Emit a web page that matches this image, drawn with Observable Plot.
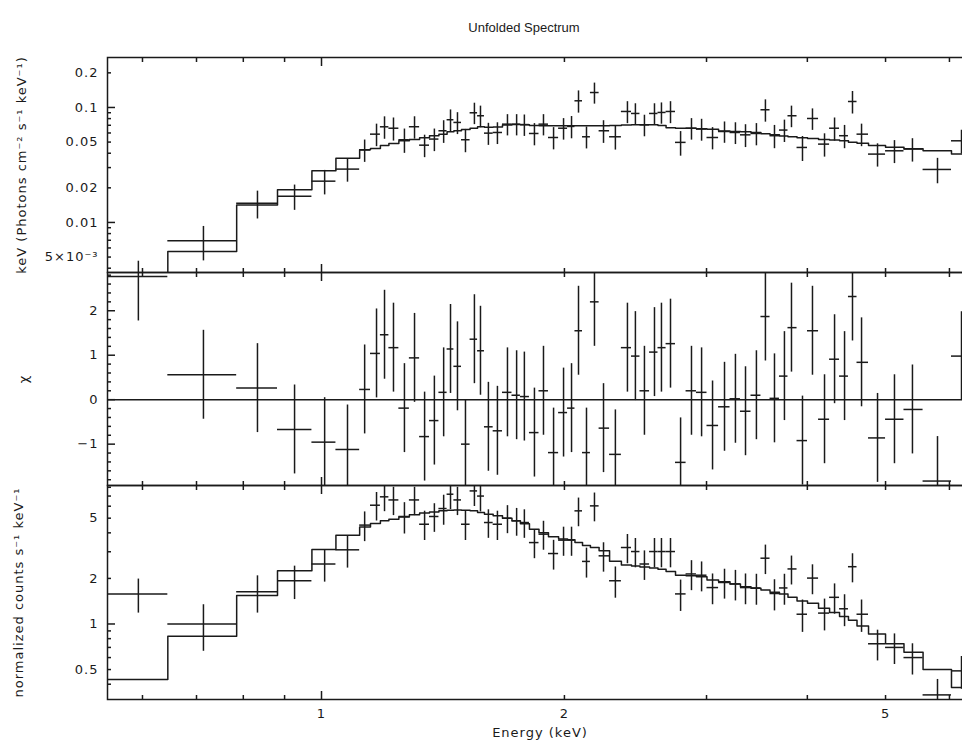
<!DOCTYPE html>
<html><head><meta charset="utf-8">
<script src="https://cdn.jsdelivr.net/npm/d3@7"></script>
<script src="https://cdn.jsdelivr.net/npm/@observablehq/plot@0.6"></script>
<style>
html,body{margin:0;padding:0;background:#fff;}
#wrap{position:relative;width:962px;height:742px;overflow:hidden;font-family:"DejaVu Sans",sans-serif;color:#1a1a1a;}
.panel{position:absolute;left:0;}
.lbl{position:absolute;font-size:13px;line-height:16px;text-align:center;white-space:nowrap;}
#title{font-family:"Liberation Sans",Arial,sans-serif;}
#xlabel{letter-spacing:1px;}
</style></head><body>
<div id="wrap">
<div class="lbl" id="title" style="left:424px;width:200px;top:20px;"></div>
<div class="panel" id="p1" style="top:0px"></div>
<div class="panel" id="p2" style="top:268px"></div>
<div class="panel" id="p3" style="top:481px"></div>
<div class="lbl" id="xlabel" style="left:440px;width:200px;top:725px;"></div>
</div>
<script>
// ---------- data ----------
const chartTitle = "Unfolded Spectrum";
const xTitle = "Energy (keV)";
const y1Title = "keV (Photons cm⁻² s⁻¹ keV⁻¹)";
const y2Title = "χ";
const y3Title = "normalized counts s⁻¹ keV⁻¹";

// channel bin edges (keV), 66 edges for 65 bins
const binEdges = [0.543,
 0.645,0.785,0.882,0.973,1.042,1.115,1.150,1.183,1.212,1.247,
 1.285,1.323,1.361,1.398,1.431,1.459,1.491,1.528,1.561,1.592,
 1.632,1.676,1.722,1.764,1.810,1.860,1.911,1.967,2.018,2.061,
 2.106,2.154,2.208,2.275,2.353,2.422,2.481,2.550,2.612,2.673,
 2.746,2.830,2.915,3.004,3.105,3.208,3.305,3.406,3.504,3.596,
 3.694,3.785,3.884,4.002,4.130,4.262,4.385,4.498,4.609,4.763,
 5.000,5.270,5.565,6.035,6.408];

// data point energies (keV)
const energy = [
 0.593,0.714,0.833,0.926,1.009,1.077,1.131,1.170,1.197,1.228,
 1.267,1.304,1.342,1.380,1.417,1.445,1.474,1.508,1.547,1.574,
 1.610,1.652,1.700,1.745,1.784,1.836,1.884,1.939,1.995,2.041,
 2.082,2.130,2.179,2.236,2.313,2.394,2.449,2.513,2.586,2.638,
 2.707,2.786,2.874,2.958,3.052,3.158,3.258,3.353,3.459,3.549,
 3.642,3.747,3.823,3.945,4.059,4.201,4.323,4.448,4.550,4.669,
 4.887,5.129,5.399,5.799,6.210];

// top panel: unfolded flux
const fluxData = [
 0.0034,0.00693,0.01472,0.01694,0.02286,0.0291,0.0427,0.0586,0.0679,0.066,
 0.0524,0.068,0.047,0.0531,0.0627,0.0782,0.0741,0.0524,0.0899,0.0847,
 0.0598,0.0606,0.0716,0.0716,0.071,0.0594,0.0716,0.0548,0.066,0.0684,
 0.1143,0.0556,0.1349,0.0627,0.0556,0.0923,0.0887,0.0706,0.0887,0.0905,
 0.0923,0.0497,0.066,0.0649,0.0548,0.0618,0.0606,0.0578,0.0594,0.0955,
 0.0568,0.0636,0.0847,0.0449,0.0802,0.048,0.066,0.0568,0.1127,0.0586,
 0.0393,0.042,0.0435,0.0289,0.0513];
const fluxErr = [
 0.0012,0.0023,0.004,0.0042,0.0055,0.0067,0.0094,0.013,0.015,0.015,
 0.0125,0.015,0.0104,0.0118,0.014,0.017,0.016,0.012,0.019,0.018,
 0.013,0.013,0.015,0.015,0.015,0.013,0.015,0.012,0.014,0.015,
 0.025,0.012,0.028,0.014,0.013,0.02,0.019,0.015,0.019,0.019,
 0.02,0.012,0.014,0.014,0.012,0.013,0.013,0.013,0.013,0.021,
 0.013,0.014,0.018,0.011,0.017,0.011,0.015,0.013,0.025,0.013,
 0.009,0.0095,0.01,0.0072,0.012];
const fluxModel = [
 0.0009,0.0056,0.01416,0.0192,0.0281,0.0362,0.0428,0.044,0.0467,0.0486,
 0.0513,0.0527,0.0545,0.0567,0.0586,0.0614,0.0627,0.0643,0.066,0.0679,
 0.0672,0.0675,0.0705,0.0712,0.0708,0.0698,0.0695,0.0693,0.0693,0.0693,
 0.0693,0.0693,0.0693,0.0695,0.0697,0.0703,0.0706,0.0706,0.0706,0.0696,
 0.0665,0.066,0.066,0.0652,0.0645,0.0625,0.0618,0.0615,0.0605,0.059,
 0.0578,0.0565,0.0556,0.0544,0.0536,0.0526,0.052,0.0513,0.0498,0.0488,
 0.0466,0.045,0.0437,0.042,0.0393];

// middle panel: residuals in sigma (error bars are +-1)
const chi = [
 2.77,0.56,0.26,-0.67,-0.955,-1.12,0.23,1.04,1.46,1.17,
 -0.19,0.94,-0.83,-0.47,0.165,1.14,0.75,-1.0,1.36,1.1,
 -0.61,-0.70,0.165,0.1,0.07,-0.74,0.2,-1.19,-0.29,-0.19,
 1.55,-1.19,2.2,-0.64,-1.23,1.17,0.98,0.2,1.07,1.17,
 1.26,-1.41,0.2,0.165,-0.58,-0.16,0.02,-0.26,0.1,1.87,
 0.03,0.53,1.62,-0.92,1.55,-0.44,0.91,0.53,2.32,0.84,
 -0.86,-0.44,-0.22,-1.83,0.98];
const chiErr = 1;

// bottom panel: normalized counts
const countData = [
 1.58,1.0,1.63,1.93,2.49,3.09,4.5,6.09,6.92,6.6,
 5.13,6.6,4.56,5.13,5.79,7.2,6.6,4.56,7.57,7.0,
 4.68,4.56,5.0,4.8,4.68,3.45,3.92,2.92,3.58,3.58,
 5.59,2.59,6.03,2.82,1.93,3.2,3.01,2.49,3.01,3.01,
 3.01,1.58,2.14,2.1,1.74,1.88,1.84,1.74,1.73,2.72,
 1.59,1.73,2.31,1.16,2.01,1.18,1.5,1.26,2.39,1.16,
 0.74,0.70,0.60,0.34,0.49];
const countErr = [
 0.4,0.34,0.45,0.48,0.6,0.75,1.0,1.3,1.4,1.4,
 1.2,1.4,1.0,1.1,1.3,1.5,1.4,1.0,1.6,1.5,
 1.0,1.0,1.05,1.0,1.0,0.75,0.85,0.65,0.78,0.78,
 1.2,0.58,1.3,0.62,0.45,0.7,0.66,0.55,0.66,0.66,
 0.66,0.37,0.48,0.47,0.4,0.42,0.42,0.4,0.4,0.6,
 0.37,0.4,0.5,0.28,0.45,0.28,0.34,0.3,0.52,0.28,
 0.17,0.16,0.14,0.09,0.12];
const countModel = [
 0.43,0.83,1.54,2.25,3.11,3.86,4.38,4.61,4.8,4.92,
 5.1,5.26,5.4,5.5,5.59,5.65,5.67,5.65,5.59,5.45,
 5.3,5.18,5.0,4.8,4.6,4.23,4.0,3.77,3.64,3.6,
 3.45,3.3,3.2,3.05,2.6,2.45,2.42,2.38,2.34,2.3,
 2.22,2.1,2.08,2.05,1.95,1.9,1.84,1.76,1.72,1.68,
 1.62,1.58,1.5,1.42,1.37,1.27,1.19,1.12,1.06,0.97,
 0.86,0.74,0.65,0.5,0.38];

// tick values and labels
const xMinorTicks = [0.6,0.7,0.8,0.9,2,3,4,5,6];
const xMajorTicks = [1];
const xLabelTicks = [1,2,5];
const xTickLabels = ["1","2","5"];

const y1MinorTicks = [0.004,0.005,0.006,0.007,0.008,0.009,0.02,0.03,0.04,0.05,0.06,0.07,0.08,0.09,0.2];
const y1MajorTicks = [0.01,0.1];
const y1LabelTicks = [0.005,0.01,0.02,0.05,0.1,0.2];
const y1TickLabels = ["5×10⁻³","0.01","0.02","0.05","0.1","0.2"];

const y2MinorTicks = [-1.8,-1.6,-1.4,-1.2,-0.8,-0.6,-0.4,-0.2,0.2,0.4,0.6,0.8,1.2,1.4,1.6,1.8,2.2,2.4,2.6,2.8];
const y2MajorTicks = [-1,0,1,2];
const y2TickLabels = ["−1","0","1","2"];

const y3MinorTicks = [0.4,0.5,0.6,0.7,0.8,0.9,2,3,4,5,6,7,8];
const y3MajorTicks = [1];
const y3LabelTicks = [0.5,1,2,5];
const y3TickLabels = ["0.5","1","2","5"];

// scale domains
const xDomain = [binEdges[0], binEdges[binEdges.length - 1]];
const y1Domain = [0.00367, 0.272];
const y2Domain = [-1.93, 2.86];
const y3Domain = [0.317, 8.22];

// ---------- drawing ----------
const INK = "#1a1a1a";
const SW = 1.5;
const FONT = "\"DejaVu Sans\", sans-serif";

document.getElementById("title").textContent = chartTitle;
document.getElementById("xlabel").textContent = xTitle;

const bins = energy.map((e, i) => ({
  e, lo: binEdges[i], hi: binEdges[i + 1],
  flux: fluxData[i], fluxErr: fluxErr[i],
  chi: chi[i],
  counts: countData[i], countErr: countErr[i]
}));
const stepRows = (model) => binEdges.map((x, i) => ({x, y: model[Math.min(i, model.length - 1)]}));

function lookup(ticks, labels) { return d => labels[ticks.indexOf(d)] ?? ""; }

function frameMarks(yMinor, yMajor) {
  return [
    Plot.axisX(xMinorTicks, {anchor: "top", tickSize: -4, fill: "none", label: null, stroke: INK, strokeWidth: SW}),
    Plot.axisX(xMajorTicks, {anchor: "top", tickSize: -8, fill: "none", label: null, stroke: INK, strokeWidth: SW}),
    Plot.axisX(xMinorTicks, {anchor: "bottom", tickSize: -4, fill: "none", label: null, stroke: INK, strokeWidth: SW}),
    Plot.axisX(xMajorTicks, {anchor: "bottom", tickSize: -8, fill: "none", label: null, stroke: INK, strokeWidth: SW}),
    Plot.axisY(yMinor, {anchor: "left", tickSize: -4, fill: "none", label: null, stroke: INK, strokeWidth: SW}),
    Plot.axisY(yMajor, {anchor: "left", tickSize: -8, fill: "none", label: null, stroke: INK, strokeWidth: SW}),
    Plot.frame({stroke: INK, strokeWidth: SW})
  ];
}

function yLabelMark(ticks, labels) {
  return Plot.text(ticks, {y: d => d, text: lookup(ticks, labels), frameAnchor: "left", textAnchor: "end", dx: -9, lineAnchor: "middle", fill: INK, fontSize: 13, style: "letter-spacing:1.2px"});
}
function yTitleMark(title, dx) {
  return Plot.text([title], {text: d => d, frameAnchor: "left", rotate: -90, dx, lineAnchor: "middle", textAnchor: "middle", fill: INK, fontSize: 13});
}

const common = {
  width: 962, marginLeft: 107, marginRight: -10,
  x: {type: "log", domain: xDomain},
  style: {fontFamily: FONT, fontSize: "13px", color: INK, background: "transparent", letterSpacing: "1px"}
};

const p1 = Plot.plot({
  ...common, height: 276, marginTop: 57, marginBottom: 4,
  y: {type: "log", domain: y1Domain},
  marks: [
    Plot.line(stepRows(fluxModel), {x: "x", y: "y", curve: "step-after", stroke: INK, strokeWidth: SW, clip: true}),
    Plot.ruleY(bins, {x1: "lo", x2: "hi", y: "flux", stroke: INK, strokeWidth: SW, clip: true}),
    Plot.ruleX(bins, {x: "e", y1: d => d.flux - d.fluxErr, y2: d => d.flux + d.fluxErr, stroke: INK, strokeWidth: SW, clip: true}),
    ...frameMarks(y1MinorTicks, y1MajorTicks),
    yLabelMark(y1LabelTicks, y1TickLabels),
    yTitleMark(y1Title, -86)
  ]
});

const p2 = Plot.plot({
  ...common, height: 221, marginTop: 4, marginBottom: 4,
  y: {type: "linear", domain: y2Domain},
  marks: [
    Plot.ruleY([0], {stroke: INK, strokeWidth: SW}),
    Plot.ruleY(bins, {x1: "lo", x2: "hi", y: "chi", stroke: INK, strokeWidth: SW, clip: true}),
    Plot.ruleX(bins, {x: "e", y1: d => d.chi - chiErr, y2: d => d.chi + chiErr, stroke: INK, strokeWidth: SW, clip: true}),
    ...frameMarks(y2MinorTicks, y2MajorTicks),
    yLabelMark(y2MajorTicks, y2TickLabels),
    yTitleMark(y2Title, -84)
  ]
});

const p3 = Plot.plot({
  ...common, height: 261, marginTop: 4, marginBottom: 43,
  y: {type: "log", domain: y3Domain},
  marks: [
    Plot.line(stepRows(countModel), {x: "x", y: "y", curve: "step-after", stroke: INK, strokeWidth: SW, clip: true}),
    Plot.ruleY(bins, {x1: "lo", x2: "hi", y: "counts", stroke: INK, strokeWidth: SW, clip: true}),
    Plot.ruleX(bins, {x: "e", y1: d => d.counts - d.countErr, y2: d => d.counts + d.countErr, stroke: INK, strokeWidth: SW, clip: true}),
    ...frameMarks(y3MinorTicks, y3MajorTicks),
    yLabelMark(y3LabelTicks, y3TickLabels),
    Plot.text(xLabelTicks, {x: d => d, text: lookup(xLabelTicks, xTickLabels), frameAnchor: "bottom", dy: 9, lineAnchor: "top", textAnchor: "middle", fill: INK, fontSize: 13}),
    yTitleMark(y3Title, -89)
  ]
});

document.getElementById("p1").appendChild(p1);
document.getElementById("p2").appendChild(p2);
document.getElementById("p3").appendChild(p3);
</script>
</body></html>
